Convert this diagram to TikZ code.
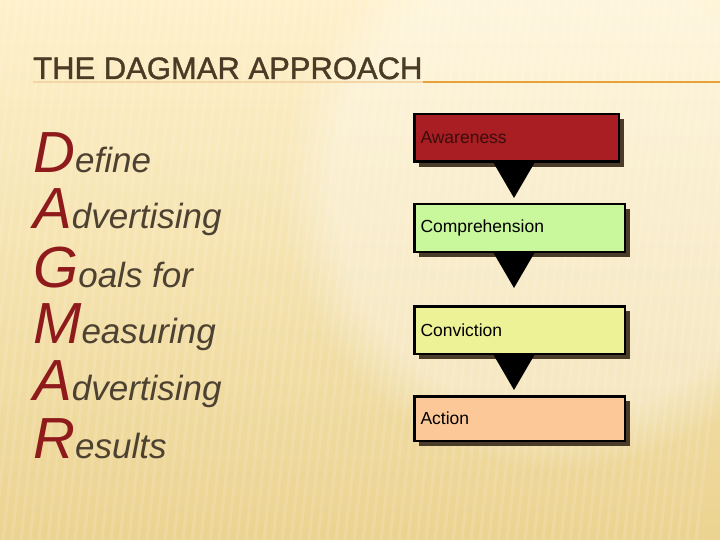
\documentclass[tikz,border=0pt]{standalone}
\usepackage{fontspec}
\setmainfont{Liberation Sans}
\usepackage{tikz}
\usetikzlibrary{calc,shadows,fadings}

\definecolor{bgtop}{HTML}{FEF1CB}
\definecolor{bgbottom}{HTML}{EBD391}
\definecolor{titlebrown}{HTML}{4A3B26}
\definecolor{ruleorange}{HTML}{E5A23A}
\definecolor{capred}{HTML}{8E1A1C}
\definecolor{wordbrown}{HTML}{4D4131}
\definecolor{shadowbrown}{HTML}{4A3A28}
\definecolor{awarefill}{HTML}{A81E22}
\definecolor{awaretext}{HTML}{3B0D0D}
\definecolor{comprefill}{HTML}{C9F79B}
\definecolor{convfill}{HTML}{EEF296}
\definecolor{actfill}{HTML}{FCC898}

\newcommand{\acrocap}[1]{{\fontsize{58}{58}\selectfont\color{capred}#1}}
\newcommand{\restword}[1]{{\fontsize{35}{35}\selectfont\color{wordbrown}#1}}

\begin{document}
\begin{tikzpicture}[x=1pt, y=-1pt,
  acro line/.style={anchor=base west, inner sep=0pt, font=\itshape},
  stage box/.style={draw=black, line width=2.5pt, anchor=north west,
    minimum height=47.5pt, inner xsep=6pt, align=left,
    font=\fontsize{17.5}{17.5}\selectfont,
    drop shadow={shadow xshift=5pt, shadow yshift=-5pt, fill=shadowbrown, opacity=1}},
  funnel/.style={fill=black}]
% background
\useasboundingbox (0,0) rectangle (720,540);
\shade[top color=bgtop, bottom color=bgbottom] (0,0) rectangle (720,540);
\fill[white, opacity=0.35, path fading=circle with fuzzy edge 20 percent] (560,190) circle (280);
\foreach \i in {0,9,...,760}
  \draw[white, opacity=0.12, line width=3pt] (\i,0) -- (\i-60,540);

% title
\node[anchor=base west, inner sep=0pt, text=titlebrown, font=\fontsize{31}{31}\selectfont\addfontfeature{FakeBold=1.2}] (title) at (33,79) {THE DAGMAR APPROACH};
\coordinate (rule end) at (720,82);
\draw[ruleorange!45, line width=1.6pt] ($(title.base west)+(0,3)$) -- ($(title.base east)+(0,3)$);
\draw[ruleorange, line width=1.6pt] ($(title.base east)+(0,3)$) -- (rule end);

% acronym
\node[acro line] (d)  at (33,173) {\acrocap{D}\restword{efine}};
\node[acro line] (a1) at (33,229) {\acrocap{A}\restword{dvertising}};
\node[acro line] (g)  at (33,287) {\acrocap{G}\restword{oals for}};
\node[acro line] (m)  at (33,343) {\acrocap{M}\restword{easuring}};
\node[acro line] (a2) at (33,400) {\acrocap{A}\restword{dvertising}};
\node[acro line] (r)  at (33,458) {\acrocap{R}\restword{esults}};

% stages
\node[stage box, fill=awarefill, text=awaretext, minimum width=204.5pt, text width=192pt] (aw) at (413,113) {Awareness};
\node[stage box, fill=comprefill, minimum width=210.5pt, text width=198pt] (co) at (413,203) {Comprehension};
\node[stage box, fill=convfill, minimum width=210.5pt, text width=198pt] (cv) at (413,305) {Conviction};
\node[stage box, fill=actfill, minimum width=210.5pt, minimum height=44.5pt, text width=198pt] (ac) at (413,395) {Action};

\foreach \a in {aw,co,cv}
  \fill[funnel] ($(\a.south west)+(80,-1)$) -- ($(\a.south west)+(122,-1)$) -- ($(\a.south west)+(101,35)$) -- cycle;
\end{tikzpicture}
\end{document}
